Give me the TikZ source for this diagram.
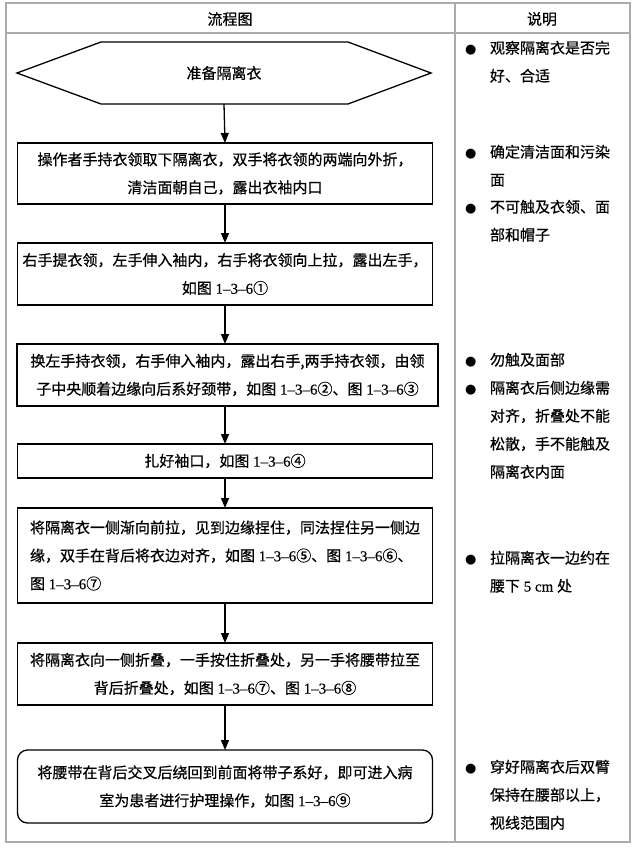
\documentclass[tikz,border=0pt]{standalone}
\usepackage{fontspec}
\setmainfont{Noto Sans CJK SC}[FakeBold=0.6]
\newfontfamily\tnr{Liberation Serif}[FakeBold=0.4]
\newfontfamily\dejavu{DejaVu Sans}
\usetikzlibrary{arrows.meta}
\newcommand\lat[1]{{\tnr #1}}
\newcommand\fs{\fontsize{15}{28}\selectfont}
\newcommand\bul{\makebox[25pt][l]{\raisebox{0pt}{\dejavu\fontsize{13}{13}\selectfont ●}}}
\newcommand\noteitem[1]{\parbox[t]{160pt}{\fs\hangindent=25pt\hangafter=1\noindent\bul #1}}
\tikzset{
  box/.style={draw, line width=1.3pt, minimum width=415pt, inner sep=0pt, outer sep=0pt, align=center, font=\fs},
  arr/.style={line width=1.3pt, -{Triangle[length=10pt,width=8pt]}},
  tbl/.style={draw=black!33, line width=1.5pt},
  note/.style={anchor=base west, inner sep=0pt, outer sep=0pt},
  head/.style={font=\fs, inner sep=0pt},
}
\begin{document}
\begin{tikzpicture}[x=1pt,y=-1pt]
\fill[white] (0,0) rectangle (638,849);
\useasboundingbox (0,0) rectangle (638,849);
% table
\draw[tbl] (6,3) rectangle (630,842);
\draw[tbl] (6,33) -- (630,33);
\draw[tbl] (455,3) -- (455,842);
\node[head] (h1) at (230,19) {流程图};
\node[head] (h2) at (542,19) {说明};
% flow
\node[box, draw=none, minimum width=414pt, minimum height=62pt] (prep) at (224,73) {准备隔离衣};
\draw[line width=1.3pt, line join=miter] (prep.west) -- ([xshift=84pt]prep.north west) -- ([xshift=-83pt]prep.north east) -- (prep.east) -- ([xshift=-83pt]prep.south east) -- ([xshift=84pt]prep.south west) -- cycle;
\node[box, minimum height=61pt] (b1) at (225,173.5) {操作者手持衣领取下隔离衣，双手将衣领的两端向外折，\\清洁面朝自己，露出衣袖内口};
\node[box, minimum height=62pt] (b2) at (225,274) {右手提衣领，左手伸入袖内，右手将衣领向上拉，露出左手，\\如图\lat{ 1–3–6}①};
\node[box, minimum width=421pt, minimum height=62pt] (b3) at (227.5,375) {换左手持衣领，右手伸入袖内，露出右手,两手持衣领，由领\\子中央顺着边缘向后系好颈带，如图\lat{ 1–3–6}②、图\lat{ 1–3–6}③};
\node[box, minimum height=34pt] (b4) at (225,461) {扎好袖口，如图\lat{ 1–3–6}④};
\node[box, minimum height=95pt, align=left] (b5) at (225,555.5) {将隔离衣一侧渐向前拉，见到边缘捏住，同法捏住另一侧边\\缘，双手在背后将衣边对齐，如图\lat{ 1–3–6}⑤、图\lat{ 1–3–6}⑥、\\图\lat{ 1–3–6}⑦};
\node[box, minimum height=62pt] (b6) at (225,674) {将隔离衣向一侧折叠，一手按住折叠处，另一手将腰带拉至\\背后折叠处，如图\lat{ 1–3–6}⑦、图\lat{ 1–3–6}⑧};
\node[box, minimum height=73pt, rounded corners=10pt] (b7) at (225,786.5) {将腰带在背后交叉后绕回到前面将带子系好，即可进入病\\室为患者进行护理操作，如图\lat{ 1–3–6}⑨};
\draw[arr] (prep.south) -- (b1.north);
\draw[arr] (b1.south) -- (b2.north);
\draw[arr] (b2.south) -- (b2.south |- b3.north);
\draw[arr] (b2.south |- b3.south) -- (b4.north);
\draw[arr] (b4.south) -- (b5.north);
\draw[arr] (b5.south) -- (b6.north);
\draw[arr] (b6.south) -- (b7.north);
% notes
\node[note] (n1) at (465,53.5) {\noteitem{观察隔离衣是否完\\好、合适}};
\node[note] (n2) at (465,157.5) {\noteitem{确定清洁面和污染\\面}};
\node[note] (n3) at (465,212.5) {\noteitem{不可触及衣领、面\\部和帽子}};
\node[note] (n4) at (465,365.5) {\noteitem{勿触及面部}};
\node[note] (n5) at (465,393.5) {\noteitem{隔离衣后侧边缘需\\对齐，折叠处不能\\松散，手不能触及\\隔离衣内面}};
\node[note] (n6) at (465,563.5) {\noteitem{拉隔离衣一边约在\\腰下\lat{ 5 cm }处}};
\node[note] (n7) at (465,772.5) {\noteitem{穿好隔离衣后双臂\\保持在腰部以上，\\视线范围内}};
\end{tikzpicture}
\end{document}
